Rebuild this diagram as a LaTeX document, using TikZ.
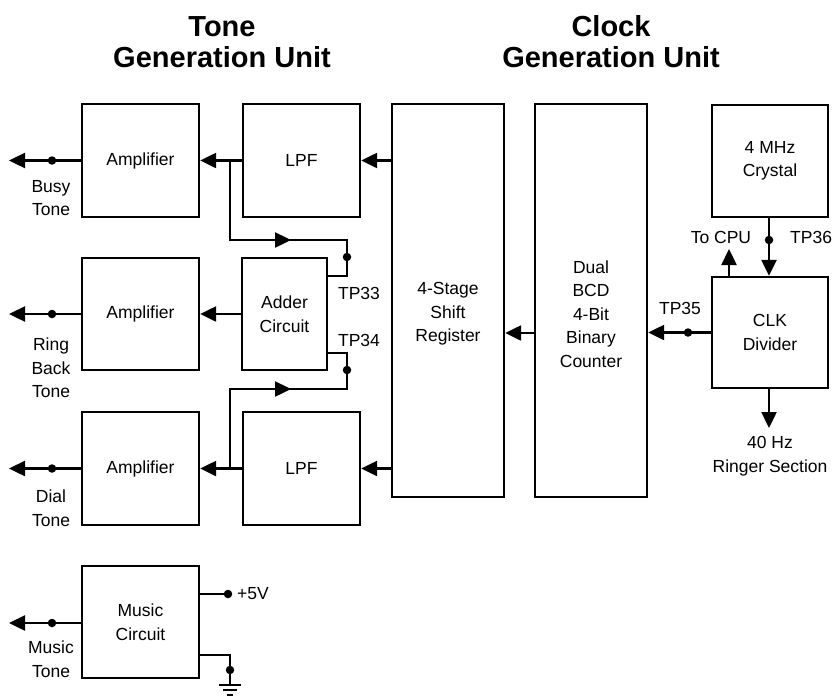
\documentclass[tikz,border=0pt]{standalone}
\usepackage{fontspec}
\setmainfont{Liberation Sans}
\usetikzlibrary{arrows.meta}
\begin{document}
\begin{tikzpicture}[x=1pt,y=-1pt,
  blk/.style={draw, line width=2.4pt, inner sep=0pt, align=center,
    font=\fontsize{17.5}{23.5}\selectfont},
  lbl/.style={inner sep=0pt, align=center, font=\fontsize{17.5}{23.5}\selectfont},
  ttl/.style={inner sep=0pt, align=center, font=\fontsize{29}{31}\selectfont\bfseries},
  wire/.style={line width=2.4pt},
  arr/.style={line width=2.4pt, -{Triangle[length=16pt,width=15pt]}},
  dotc/.style={circle, fill=black, inner sep=0pt, minimum size=8.5pt}]
\useasboundingbox (0,0) rectangle (832,697);

% titles
\node[ttl] (t1) at (222,42) {Tone\\Generation Unit};
\node[ttl] (t2) at (611,42) {Clock\\Generation Unit};

% blocks
\node[blk, minimum width=117pt, minimum height=113pt] (amp1) at (140.5,160.5) {Amplifier};
\node[blk, minimum width=117pt, minimum height=113pt] (lpf1) at (301.5,160.5) {LPF};
\node[blk, minimum width=117pt, minimum height=112pt] (amp2) at (140.5,314) {Amplifier};
\node[blk, minimum width=85pt, minimum height=112pt] (add) at (284.5,314) {Adder\\Circuit};
\node[blk, minimum width=117pt, minimum height=113pt] (amp3) at (140.5,468.5) {Amplifier};
\node[blk, minimum width=117pt, minimum height=113pt] (lpf2) at (301.5,468.5) {LPF};
\node[blk, minimum width=117pt, minimum height=112pt] (mus) at (140.5,622) {Music\\Circuit};
\node[blk, minimum width=112pt, minimum height=393pt] (shf) at (448,300.5) {};
\node[lbl] (shft) at (448,314) {4-Stage\\Shift\\Register};
\node[blk, minimum width=112pt, minimum height=393pt] (cnt) at (591,300.5) {};
\node[lbl] (cntt) at (591,314) {Dual\\BCD\\4-Bit\\Binary\\Counter};
\node[blk, minimum width=116pt, minimum height=112pt] (xtal) at (770,161) {4 MHz\\Crystal};
\node[blk, minimum width=116pt, minimum height=111pt] (clk) at (770,332.5) {CLK\\Divider};

% outputs on the left
\coordinate (o1) at (9,160.5);
\coordinate (o2) at (9,314);
\coordinate (o3) at (9,468.5);
\coordinate (o4) at (9,623);
\draw[arr] (amp1.west |- o1) -- (o1);
\draw[arr] (amp2.west |- o2) -- (o2);
\draw[arr] (amp3.west |- o3) -- (o3);
\draw[arr] (mus.west |- o4) -- (o4);
\node[dotc] (d1) at (52,160.5) {};
\node[dotc] (d2) at (52,314) {};
\node[dotc] (d3) at (52,468.5) {};
\node[dotc] (d4) at (52,623) {};
\node[lbl] (l1) at (51,198) {Busy\\Tone};
\node[lbl] (l2) at (51,368) {Ring\\Back\\Tone};
\node[lbl] (l3) at (51,508) {Dial\\Tone};
\node[lbl] (l4) at (51,659) {Music\\Tone};

% LPF -> amplifiers, adder -> amplifier
\draw[arr] (lpf1.west) -- (amp1.east);
\draw[arr] (add.west) -- (amp2.east);
\draw[arr] (lpf2.west) -- (amp3.east);

% shift register -> LPFs
\draw[arr] (shf.west |- lpf1) -- (lpf1.east);
\draw[arr] (shf.west |- lpf2) -- (lpf2.east);

% feedback to adder
\coordinate (b1) at (230,160.5);
\coordinate (c1) at (230,240);
\coordinate (e1) at (347,240);
\coordinate (f1) at (327,276);
\coordinate (b2) at (230,468.5);
\coordinate (c2) at (230,389);
\coordinate (e2) at (347,389);
\coordinate (f2) at (327,353);
\draw[wire] (b1) -- (c1) -- (e1) |- (f1);
\draw[arr] (c1) -- (291,240);
\draw[wire] (b2) -- (c2) -- (e2) |- (f2);
\draw[arr] (c2) -- (291,389);
\node[dotc] (tp33d) at (347,257) {};
\node[dotc] (tp34d) at (347,370) {};
\node[lbl] (tp33) at (359,293) {TP33};
\node[lbl] (tp34) at (359,340) {TP34};

% counter -> shift register
\draw[arr] (cnt.west |- 0,333) -- (shf.east |- 0,333);

% clock divider -> counter
\draw[arr] (clk.west) -- (cnt.east |- clk.west);
\node[dotc] (tp35d) at (688,332.5) {};
\node[lbl] (tp35) at (680,308) {TP35};

% crystal -> clk
\draw[arr] (xtal.south -| 769,0) -- (clk.north -| 769,0);
\node[dotc] (tp36d) at (769,240) {};
\node[lbl, anchor=west] (tp36) at (790,237) {TP36};

% to CPU
\coordinate (cpu) at (729,249);
\draw[arr] (clk.north -| cpu) -- (cpu);
\node[lbl] (cput) at (721,237) {To CPU};

% ringer
\coordinate (rg) at (769,428);
\draw[arr] (clk.south -| rg) -- (rg);
\node[lbl] (rgt) at (770,456) {40 Hz\\Ringer Section};

% music circuit supply and ground
\coordinate (v5) at (228,594);
\draw[wire] (mus.east |- v5) -- (v5);
\node[dotc] (v5d) at (228,594) {};
\node[lbl, anchor=west] (v5t) at (237,594) {+5V};
\coordinate (g0) at (230,655);
\coordinate (g1) at (230,684);
\draw[wire] (mus.east |- g0) -- (g0) -- (g1);
\node[dotc] (gd) at (230,670) {};
\draw[line width=2pt] (219,684.5) -- (241,684.5);
\draw[line width=2pt] (223,689.5) -- (237,689.5);
\draw[line width=2pt] (227,694.5) -- (233,694.5);
\end{tikzpicture}
\end{document}
